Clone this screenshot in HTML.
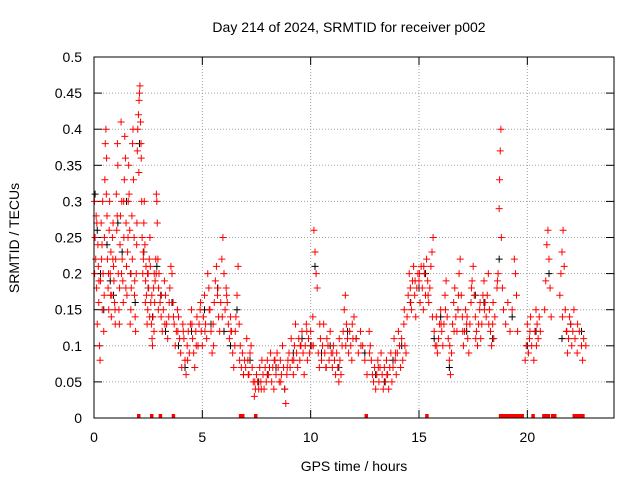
<!DOCTYPE html>
<html><head><meta charset="utf-8"><style>
body{margin:0;background:#fff}
svg{display:block;font-family:"Liberation Sans",sans-serif}
</style></head><body>
<svg id="chart" width="640" height="480">
<text x="349" y="32" text-anchor="middle" font-size="14">Day 214 of 2024, SRMTID for receiver p002</text>
<text x="354" y="471" text-anchor="middle" font-size="14">GPS time / hours</text>
<text transform="translate(19,238) rotate(-90)" text-anchor="middle" font-size="14">SRMTID / TECUs</text>
<g id="grid"></g>
<g id="ticks"></g>
<g id="black"></g>
<g id="red"></g>
<rect x="94" y="57" width="520" height="361" fill="none" stroke="#000"/>
</svg>
<script>
const xTicks=[0,5,10,15,20];
const yTicks=[0,0.05,0.1,0.15,0.2,0.25,0.3,0.35,0.4,0.45,0.5];
const yTickLabels=["0","0.05","0.1","0.15","0.2","0.25","0.3","0.35","0.4","0.45","0.5"];
const redT=[0.02,.05,.08,.1,.12,.15,.18,.2,.22,.25,.28,.3,.33,.35,.38,.4,.42,.45,.48,.5,.52,.55,.58,.6,.62,.65,.68,.7,.72,.75,.78,.8,.82,.85,.88,.9,.92,.95,.98,
1.0,1.03,1.05,1.08,1.1,1.12,1.15,1.18,1.2,1.22,1.25,1.28,1.3,1.33,1.35,1.38,1.4,1.42,1.45,1.48,1.5,1.52,1.55,1.58,1.6,1.62,1.65,1.68,1.7,1.72,1.75,1.78,1.8,1.82,1.85,1.88,1.9,1.92,1.95,1.98,
2.0,2.02,2.05,2.08,2.1,2.12,2.15,2.18,2.2,2.22,2.25,2.28,2.3,2.32,2.35,2.38,2.4,2.42,2.45,2.48,2.5,2.52,2.55,2.58,2.6,2.62,2.65,2.68,2.7,2.72,2.75,2.78,2.8,2.82,2.85,2.88,2.9,2.92,2.95,2.98,
3.0,3.05,3.1,3.15,3.2,3.25,3.3,3.35,3.4,3.45,3.5,3.55,3.6,3.65,3.7,3.75,3.8,3.85,3.9,3.95,
4.0,4.05,4.1,4.15,4.2,4.25,4.3,4.35,4.4,4.45,4.5,4.55,4.6,4.65,4.7,4.75,4.8,4.85,4.9,4.95,
5.0,5.05,5.1,5.15,5.2,5.25,5.3,5.35,5.4,5.45,5.5,5.55,5.6,5.65,5.7,5.75,5.8,5.85,5.9,5.95,
6.0,6.05,6.1,6.15,6.2,6.25,6.3,6.35,6.4,6.45,6.5,6.55,6.6,6.65,6.7,6.75,6.8,6.85,6.9,6.95,
7.0,7.05,7.1,7.15,7.2,7.25,7.3,7.35,7.4,7.45,7.5,7.55,7.6,7.65,7.7,7.75,7.8,7.85,7.9,7.95,
8.0,8.05,8.1,8.15,8.2,8.25,8.3,8.35,8.4,8.45,8.5,8.55,8.6,8.65,8.7,8.75,8.8,8.85,8.9,8.95,
9.0,9.05,9.1,9.15,9.2,9.25,9.3,9.35,9.4,9.45,9.5,9.55,9.6,9.65,9.7,9.75,9.8,9.85,9.9,9.95,
10.0,10.05,10.1,10.15,10.2,10.25,10.3,10.35,10.4,10.45,10.5,10.55,10.6,10.65,10.7,10.75,10.8,10.85,10.9,10.95,
11.0,11.05,11.1,11.15,11.2,11.25,11.3,11.35,11.4,11.45,11.5,11.55,11.6,11.65,11.7,11.75,11.8,11.85,11.9,11.95,
12.0,12.1,12.2,12.3,12.4,12.5,12.6,12.7,12.75,12.8,12.85,12.9,12.95,
13.0,13.05,13.1,13.15,13.2,13.25,13.3,13.35,13.4,13.45,13.5,13.55,13.6,13.65,13.7,13.75,13.8,13.85,13.9,13.95,
14.0,14.05,14.1,14.15,14.2,14.25,14.3,14.35,14.4,14.45,14.5,14.55,14.6,14.65,14.7,14.75,14.8,14.85,14.9,14.95,
15.0,15.05,15.1,15.15,15.2,15.25,15.3,15.35,15.4,15.45,15.5,15.55,15.6,15.65,15.7,15.75,15.8,15.85,15.9,15.95,
16.0,16.05,16.1,16.15,16.2,16.25,16.3,16.35,16.4,16.45,16.5,16.55,16.6,16.65,16.7,16.75,16.8,16.85,16.9,16.95,
17.0,17.05,17.1,17.15,17.2,17.25,17.3,17.35,17.4,17.45,17.5,17.55,17.6,17.65,17.7,17.75,17.8,17.85,17.9,17.95,
18.0,18.05,18.1,18.15,18.2,18.25,18.3,18.35,18.4,18.45,18.5,18.6,18.65,18.7,18.72,18.75,18.78,18.8,18.85,18.9,
19.0,19.1,19.2,19.3,19.4,19.45,19.5,19.55,19.9,19.95,
20.0,20.05,20.1,20.15,20.2,20.3,20.35,20.4,20.45,20.5,20.55,20.6,20.8,20.85,20.9,20.95,21.0,21.05,21.1,
21.5,21.55,21.6,21.65,21.7,21.75,21.8,21.85,21.9,21.95,22.0,22.05,22.1,22.15,22.2,22.3,22.4,22.5,22.55,22.6,22.7];
const redV=[.30,.25,.22,.28,.18,.13,.24,.21,.16,.1,.08,.19,.27,.22,.15,.3,.2,.12,.25,.33,.38,.4,.36,.28,.22,.18,.15,.26,.3,.2,.23,.14,.17,.25,.27,.21,.19,.16,.13,
.22,.31,.26,.38,.35,.2,.15,.18,.24,.28,.41,.3,.22,.19,.16,.25,.33,.39,.36,.27,.21,.17,.23,.3,.35,.31,.26,.2,.15,.18,.28,.38,.4,.33,.25,.19,.14,.12,.2,.27,
.37,.4,.42,.44,.45,.46,.41,.36,.3,.25,.2,.22,.27,.3,.24,.19,.21,.17,.13,.15,.2,.18,.22,.25,.21,.16,.13,.11,.1,.14,.18,.2,.16,.19,.22,.31,.3,.27,.22,.18,
.2,.16,.14,.12,.15,.19,.17,.13,.11,.14,.18,.21,.2,.16,.13,.1,.12,.15,.14,.11,
.09,.07,.13,.11,.08,.06,.1,.12,.09,.13,.15,.11,.09,.07,.12,.14,.1,.13,.15,.12,
.1,.14,.17,.13,.11,.2,.18,.15,.12,.09,.13,.16,.19,.21,.17,.14,.12,.16,.22,.25,
.2,.15,.18,.16,.13,.11,.14,.12,.09,.07,.1,.14,.17,.21,.13,.1,.07,.09,.06,.08,
.07,.11,.08,.06,.09,.1,.07,.05,.03,.04,.06,.05,.04,.07,.05,.08,.06,.04,.07,.05,
.08,.06,.07,.09,.05,.07,.04,.08,.06,.09,.07,.05,.08,.06,.1,.07,.04,.02,.06,.08,
.09,.07,.11,.08,.06,.1,.13,.09,.07,.11,.08,.1,.12,.09,.06,.1,.13,.08,.11,.09,
.12,.1,.14,.26,.23,.2,.18,.09,.07,.11,.08,.1,.13,.09,.07,.11,.1,.08,.12,.09,
.07,.1,.08,.06,.09,.07,.05,.08,.06,.1,.12,.15,.17,.13,.11,.09,.12,.1,.08,.11,
.14,.11,.09,.12,.1,.08,.06,.12,.1,.08,.06,.05,.07,
.04,.06,.08,.05,.07,.09,.06,.04,.07,.05,.08,.06,.04,.07,.09,.05,.07,.11,.08,.06,
.09,.12,.1,.07,.11,.08,.13,.1,.09,.14,.17,.2,.18,.15,.19,.21,.17,.14,.18,.2,
.19,.16,.21,.18,.15,.2,.17,.22,.19,.16,.18,.21,.23,.25,.12,.1,.14,.09,.11,.13,
.15,.12,.1,.13,.17,.19,.14,.11,.08,.06,.09,.13,.16,.18,.14,.12,.15,.2,.22,.17,
.14,.1,.12,.15,.13,.11,.09,.13,.16,.19,.21,.17,.14,.12,.1,.13,.15,.11,.13,.17,
.19,.16,.14,.17,.2,.15,.12,.1,.13,.11,.14,.18,.2,.29,.33,.37,.4,.25,.18,.15,
.13,.16,.12,.15,.22,.2,.17,.12,.08,.1,
.13,.09,.11,.14,.1,.08,.12,.15,.13,.11,.14,.12,.15,.19,.24,.26,.22,.18,.14,
.17,.2,.23,.26,.21,.15,.12,.09,.11,.14,.13,.1,.12,.15,.11,.09,.12,.1,.08,.11,.1];
const redT2=[0.03,.13,.23,.37,.47,.57,.67,.77,.87,.97,1.07,1.17,1.27,1.37,1.47,1.57,1.67,1.77,1.87,1.97,2.07,2.17,2.27,2.37,2.47,2.57,2.67,2.77,2.87,2.97,3.07,3.27,3.47,3.67,3.87,
4.12,4.32,4.52,4.72,4.92,5.12,5.32,5.52,5.72,5.92,6.12,6.32,6.52,6.72,7.12,7.42,7.72,8.02,8.32,8.62,8.92,9.22,9.52,9.82,10.12,10.42,10.72,11.02,11.32,11.62,11.92,12.32,12.72,13.12,13.52,13.92,
14.32,14.62,14.82,15.02,15.22,15.42,15.62,15.82,16.02,16.22,16.42,16.62,16.82,17.02,17.22,17.42,17.62,17.82,18.02,18.22,18.42,18.62,20.12,20.42,21.62,21.82,22.32,22.52];
const redV2=[.2,.27,.19,.24,.17,.31,.2,.17,.22,.15,.28,.13,.2,.3,.18,.25,.13,.22,.17,.24,.34,.38,.23,.16,.2,.14,.17,.12,.2,.15,.17,.13,.16,.14,.12,
.12,.08,.13,.1,.16,.12,.15,.1,.18,.14,.17,.12,.12,.08,.06,.05,.04,.06,.08,.05,.07,.08,.1,.12,.1,.13,.07,.09,.11,.1,.13,.1,.09,.07,.06,.09,
.15,.16,.19,.2,.21,.17,.14,.1,.13,.15,.1,.12,.17,.12,.14,.18,.11,.16,.15,.13,.16,.19,.12,.1,.14,.12,.13];
const zeroT=[2.1,2.7,3.1,3.7,6.8,6.9,7.5,12.6,15.4,18.8,18.9,19.0,19.1,19.2,19.3,19.4,19.5,19.6,19.7,19.8,20.3,20.8,20.9,21.0,21.2,21.3,22.2,22.3,22.4,22.5,22.6];
const blackT=[0.05,.15,.3,.45,.6,.75,.9,1.1,1.3,1.5,1.7,1.9,2.1,2.3,2.5,2.7,2.9,3.1,3.3,3.6,3.9,4.2,4.5,4.8,5.1,5.4,5.7,6.0,6.3,6.6,6.9,7.2,7.6,8.0,8.4,8.8,9.2,9.6,10.0,10.2,10.5,10.9,11.3,11.7,12.1,12.5,13.0,13.4,13.8,14.2,14.6,15.0,15.3,15.7,16.0,16.4,16.8,17.2,17.6,18.0,18.4,18.7,19.3,20.0,20.4,21.0,21.6,22.0,22.5];
const blackV=[.31,.26,.2,.15,.24,.19,.17,.27,.23,.3,.2,.16,.38,.23,.18,.14,.21,.17,.12,.16,.1,.07,.12,.1,.15,.13,.18,.12,.1,.15,.06,.08,.05,.06,.07,.04,.09,.11,.1,.21,.09,.1,.07,.12,.11,.09,.06,.05,.08,.1,.16,.18,.2,.11,.14,.07,.15,.12,.17,.16,.11,.22,.14,.1,.12,.2,.11,.13,.12];
const X=t=>94+t*520/24, Y=v=>418-v*361/0.5;
const NS="http://www.w3.org/2000/svg";
function el(tag,attrs,parent){const e=document.createElementNS(NS,tag);for(const k in attrs)e.setAttribute(k,attrs[k]);parent.appendChild(e);return e;}
const grid=document.getElementById('grid'),ticks=document.getElementById('ticks');
xTicks.forEach(t=>{const x=X(t);
 const g=el('line',{x1:x,x2:x,y1:57,y2:418,stroke:'#a0a0a0','stroke-dasharray':'1,2'},grid);
 
 
 el('line',{x1:x,x2:x,y1:418,y2:410,stroke:'#000'},ticks);
 el('line',{x1:x,x2:x,y1:57,y2:65,stroke:'#000'},ticks);
 const tx=el('text',{x:x,y:442,'text-anchor':'middle','font-size':14},ticks);tx.textContent=t;
 
 
});
yTicks.forEach((v,i)=>{const y=Y(v);
 const g=el('line',{x1:94,x2:614,y1:y,y2:y,stroke:'#a0a0a0','stroke-dasharray':'1,2'},grid);
 
 
 el('line',{x1:94,x2:102,y1:y,y2:y,stroke:'#000'},ticks);
 el('line',{x1:606,x2:614,y1:y,y2:y,stroke:'#000'},ticks);
 const tx=el('text',{x:82,y:y+5,'text-anchor':'end','font-size':14},ticks);tx.textContent=yTickLabels[i];
 
 
});
function plus(g,t,v,c){const x=X(t),y=Y(v);
 const p=el('path',{d:`M${x-3.5} ${y}H${x+3.5}M${x} ${y-3.5}V${y+3.5}`,stroke:c,'stroke-width':1},g);
 
 
}
const bg=document.getElementById('black'),rg=document.getElementById('red');
blackT.forEach((t,i)=>plus(bg,t,blackV[i],'#000'));
redT.forEach((t,i)=>plus(rg,t,redV[i],'#f00'));
redT2.forEach((t,i)=>plus(rg,t,redV2[i],'#f00'));
zeroT.forEach(t=>{const x=X(t);const p=el('path',{d:`M${x} 414V418M${x-1.5} 418V414`,stroke:'#f00','stroke-width':2},rg);
 
 });
</script>
</body></html>
